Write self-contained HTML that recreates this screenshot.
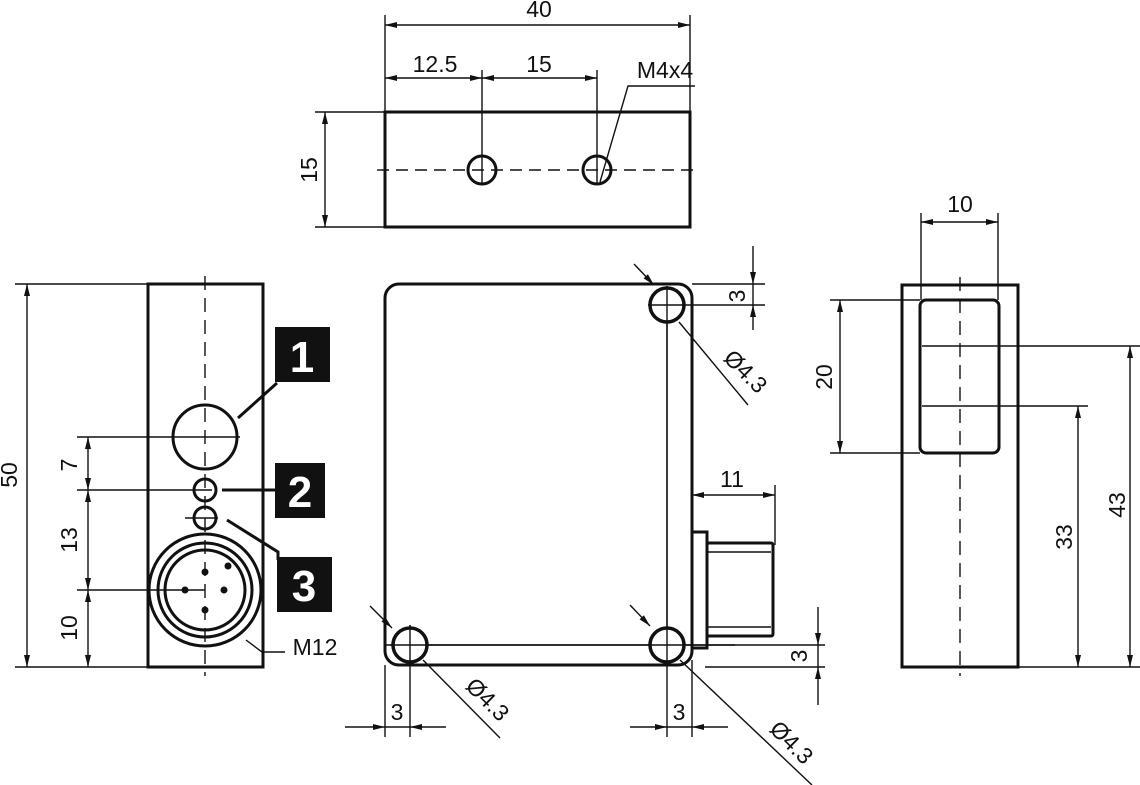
<!DOCTYPE html>
<html><head><meta charset="utf-8"><style>
html,body{margin:0;padding:0;background:#fff;}
svg{display:block;}
text{font-family:"Liberation Sans","DejaVu Sans",sans-serif;fill:#111;}
</style></head><body>
<svg width="1140" height="785" viewBox="0 0 1140 785" xmlns="http://www.w3.org/2000/svg">
<defs>
<marker id="a" viewBox="0 0 12 6" refX="12" refY="3" markerWidth="13" markerHeight="6" markerUnits="userSpaceOnUse" orient="auto-start-reverse"><path d="M0,0 L12,3 L0,6 Z" fill="#111"/></marker>
</defs>
<g stroke="#111" fill="none">
<!-- TOP VIEW -->
<rect x="385" y="112" width="305" height="115" stroke-width="3"/>
<line x1="377" y1="170" x2="698" y2="170" stroke-width="1.4" stroke-dasharray="12,7"/>
<circle cx="482" cy="170" r="14" stroke-width="3"/>
<circle cx="597" cy="170" r="14" stroke-width="3"/>
<g stroke-width="1.4">
<line x1="385" y1="15" x2="385" y2="112"/><line x1="690" y1="15" x2="690" y2="112"/>
<line x1="385" y1="25" x2="690" y2="25" marker-start="url(#a)" marker-end="url(#a)"/>
<line x1="482" y1="70" x2="482" y2="185"/><line x1="597" y1="70" x2="597" y2="185"/>
<line x1="385" y1="78" x2="482" y2="78" marker-start="url(#a)" marker-end="url(#a)"/>
<line x1="482" y1="78" x2="597" y2="78" marker-start="url(#a)" marker-end="url(#a)"/>
<polyline points="695,86 628,86 600,182"/>
<line x1="315" y1="112" x2="385" y2="112"/><line x1="315" y1="227" x2="385" y2="227"/>
<line x1="325" y1="112" x2="325" y2="227" marker-start="url(#a)" marker-end="url(#a)"/>
</g>
<!-- LEFT VIEW -->
<rect x="148" y="284" width="115" height="383" stroke-width="3"/>
<line x1="205" y1="276" x2="205" y2="676" stroke-width="1.4" stroke-dasharray="14,8"/>
<circle cx="205" cy="437" r="32" stroke-width="3"/>
<circle cx="205" cy="490" r="11" stroke-width="3"/>
<circle cx="205" cy="518" r="11" stroke-width="3"/>
<circle cx="205" cy="590" r="56" stroke-width="3"/>
<circle cx="205" cy="590" r="47" stroke-width="3"/>
<circle cx="205" cy="590" r="40" stroke-width="3"/>
<g fill="#111" stroke="none"><circle cx="205" cy="572" r="3.5"/><circle cx="185" cy="590" r="3.5"/><circle cx="224" cy="590" r="3.5"/><circle cx="205" cy="610" r="3.5"/><circle cx="228" cy="566" r="3.5"/></g>
<g stroke-width="1.4">
<line x1="15" y1="284" x2="148" y2="284"/><line x1="15" y1="667" x2="148" y2="667"/>
<line x1="27" y1="284" x2="27" y2="667" marker-start="url(#a)" marker-end="url(#a)"/>
<line x1="77" y1="437" x2="240" y2="437"/>
<line x1="77" y1="490" x2="212" y2="490"/>
<line x1="77" y1="590" x2="205" y2="590"/>
<line x1="88" y1="437" x2="88" y2="490" marker-start="url(#a)" marker-end="url(#a)"/>
<line x1="88" y1="490" x2="88" y2="590" marker-start="url(#a)" marker-end="url(#a)"/>
<line x1="88" y1="590" x2="88" y2="667" marker-start="url(#a)" marker-end="url(#a)"/>
<line x1="185" y1="518" x2="218" y2="518"/>
<polyline points="246,640 262,652 285,652"/>
</g>
<line x1="238" y1="418" x2="277" y2="383" stroke-width="3"/>
<line x1="222" y1="490" x2="277" y2="490" stroke-width="3"/>
<polyline points="227,520 278,552 278,560" stroke-width="3"/>
<!-- MIDDLE VIEW -->
<rect x="385" y="284" width="307" height="381" rx="14" stroke-width="3"/>
<line x1="667" y1="286" x2="667" y2="737" stroke-width="1.4"/>
<line x1="385" y1="645" x2="735" y2="645" stroke-width="1.4"/>
<line x1="410" y1="625" x2="410" y2="737" stroke-width="1.4"/>
<circle cx="667" cy="305" r="17" stroke-width="3.5" fill="#fff"/>
<circle cx="410" cy="645" r="17" stroke-width="3.5" fill="#fff"/>
<circle cx="667" cy="645" r="17" stroke-width="3.5" fill="#fff"/>
<line x1="648" y1="305" x2="765" y2="305" stroke-width="1.4"/>
<line x1="410" y1="625" x2="410" y2="665" stroke-width="1.4"/>
<line x1="667" y1="286" x2="667" y2="665" stroke-width="1.4"/>
<line x1="390" y1="645" x2="690" y2="645" stroke-width="1.4"/>
<rect x="692" y="532" width="15" height="116" stroke-width="3"/>
<rect x="707" y="543" width="66" height="93" rx="2" stroke-width="3"/>
<line x1="707" y1="552" x2="771" y2="552" stroke-width="1.4"/>
<line x1="707" y1="627" x2="771" y2="627" stroke-width="1.4"/>
<g stroke-width="1.4">
<line x1="692" y1="284" x2="765" y2="284"/>
<line x1="753" y1="246" x2="753" y2="284" marker-end="url(#a)"/>
<line x1="753" y1="330" x2="753" y2="305" marker-end="url(#a)"/>
<line x1="753" y1="284" x2="753" y2="305"/>
<line x1="692" y1="495" x2="775" y2="495" marker-start="url(#a)" marker-end="url(#a)"/>
<line x1="775" y1="485" x2="775" y2="545"/>
<line x1="705" y1="667" x2="825" y2="667"/>
<line x1="690" y1="645" x2="825" y2="645"/>
<line x1="818" y1="607" x2="818" y2="645" marker-end="url(#a)"/>
<line x1="818" y1="705" x2="818" y2="667" marker-end="url(#a)"/>
<line x1="818" y1="645" x2="818" y2="667"/>
<line x1="385" y1="665" x2="385" y2="737"/>
<line x1="692" y1="660" x2="692" y2="737"/>
<line x1="345" y1="727" x2="385" y2="727" marker-end="url(#a)"/>
<line x1="446" y1="727" x2="410" y2="727" marker-end="url(#a)"/>
<line x1="630" y1="727" x2="667" y2="727" marker-end="url(#a)"/>
<line x1="728" y1="727" x2="692" y2="727" marker-end="url(#a)"/>
<line x1="385" y1="727" x2="410" y2="727"/><line x1="667" y1="727" x2="692" y2="727"/>
<line x1="634" y1="264" x2="654" y2="285" marker-end="url(#a)"/>
<line x1="679" y1="322" x2="748" y2="405"/>
<line x1="370" y1="606" x2="392" y2="628" marker-end="url(#a)"/>
<line x1="423" y1="660" x2="500" y2="738"/>
<line x1="630" y1="605" x2="650" y2="626" marker-end="url(#a)"/>
<line x1="680" y1="660" x2="812" y2="785"/>
</g>
<!-- RIGHT VIEW -->
<rect x="902" y="285" width="116" height="382" stroke-width="3"/>
<rect x="920" y="300" width="79" height="153" rx="6" stroke-width="3"/>
<line x1="960" y1="277" x2="960" y2="676" stroke-width="1.4" stroke-dasharray="14,8"/>
<g stroke-width="1.4">
<line x1="921" y1="213" x2="921" y2="300"/><line x1="998" y1="213" x2="998" y2="300"/>
<line x1="921" y1="222" x2="998" y2="222" marker-start="url(#a)" marker-end="url(#a)"/>
<line x1="830" y1="300" x2="920" y2="300"/><line x1="830" y1="453" x2="920" y2="453"/>
<line x1="840" y1="300" x2="840" y2="453" marker-start="url(#a)" marker-end="url(#a)"/>
<line x1="922" y1="346" x2="1140" y2="346"/>
<line x1="922" y1="406" x2="1088" y2="406"/>
<line x1="1018" y1="667" x2="1140" y2="667"/>
<line x1="1130" y1="346" x2="1130" y2="667" marker-start="url(#a)" marker-end="url(#a)"/>
<line x1="1078" y1="406" x2="1078" y2="667" marker-start="url(#a)" marker-end="url(#a)"/>
</g>
</g>
<!-- boxes -->
<rect x="275" y="327" width="55" height="55" fill="#111"/>
<rect x="275" y="463" width="50" height="55" fill="#111"/>
<rect x="277" y="557" width="55" height="55" fill="#111"/>
<g font-weight="bold" font-size="44" text-anchor="middle">
<text x="302" y="372" style="fill:#fff">1</text>
<text x="300" y="507" style="fill:#fff">2</text>
<text x="304" y="601" style="fill:#fff">3</text>
</g>
<g font-size="23" text-anchor="middle">
<text x="539" y="17">40</text>
<text x="435" y="72">12.5</text>
<text x="539" y="72">15</text>
<text x="665" y="78">M4x4</text>
<text transform="translate(317,170) rotate(-90)">15</text>
<text transform="translate(17,475) rotate(-90)">50</text>
<text transform="translate(77,465) rotate(-90)">7</text>
<text transform="translate(77,540) rotate(-90)">13</text>
<text transform="translate(77,628) rotate(-90)">10</text>
<text x="315" y="655">M12</text>
<text transform="translate(745,296) rotate(-90)">3</text>
<text x="732" y="487">11</text>
<text transform="translate(807,656) rotate(-90)">3</text>
<text x="397" y="720">3</text>
<text x="679" y="720">3</text>
<text transform="translate(740,377) rotate(45)">Ø4.3</text>
<text transform="translate(482,705) rotate(45)">Ø4.3</text>
<text transform="translate(786,748) rotate(45)">Ø4.3</text>
<text x="960" y="212">10</text>
<text transform="translate(832,377) rotate(-90)">20</text>
<text transform="translate(1072,537) rotate(-90)">33</text>
<text transform="translate(1125,505) rotate(-90)">43</text>
</g>
</svg>
</body></html>
